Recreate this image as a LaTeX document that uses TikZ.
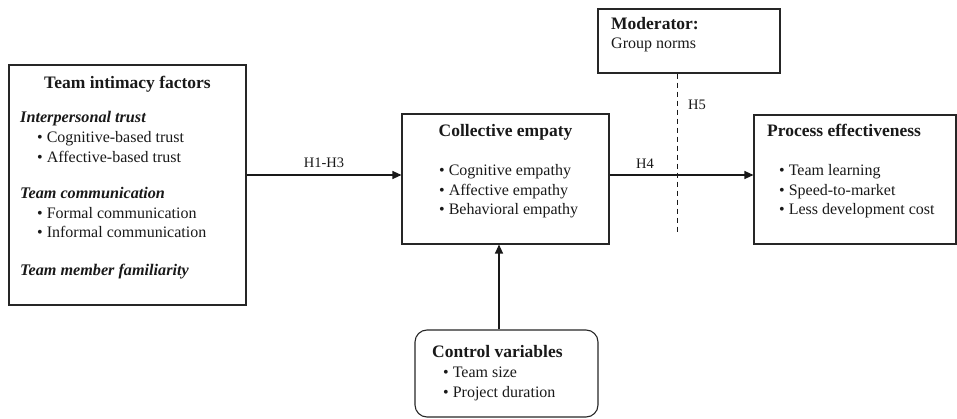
\documentclass[tikz,border=0pt]{standalone}
\usepackage{fontspec}
\setmainfont{Liberation Serif}
\usetikzlibrary{arrows.meta,positioning}

\begin{document}
\begin{tikzpicture}[x=1pt, y=-1pt]
\tikzset{
  box/.style={rectangle, draw=black!85, line width=1.1pt, inner sep=0pt},
  entry/.style={font=\fontsize{16}{19}\selectfont, inner sep=0pt, anchor=base west, text=black!90},
  boxtitle/.style={entry, font=\fontsize{17.5}{20}\selectfont\bfseries},
  subhead/.style={entry, font=\fontsize{16.2}{19}\selectfont\bfseries\itshape},
  hyp/.style={entry, font=\fontsize{14.5}{17}\selectfont},
  flow/.style={-{Triangle[length=9pt,width=8pt]}, line width=1.1pt, draw=black!90},
  modline/.style={dash pattern=on 5pt off 4pt, line width=0.8pt, draw=black!90}
}
\useasboundingbox (0,0) rectangle (957,419);

% boxes
\node[box, minimum width=237pt, minimum height=240pt] (intimacy) at (127.5,185) {};
\node[box, minimum width=207pt, minimum height=130pt] (empathy) at (505.5,179) {};
\node[box, minimum width=202pt, minimum height=129pt] (outcome) at (855,179.5) {};
\node[box, minimum width=182pt, minimum height=64pt] (moderator) at (689,41) {};
\node[box, rounded corners=12pt, minimum width=183pt, minimum height=87pt] (control) at (506.5,373.5) {};

% team intimacy factors
\node[boxtitle, anchor=base] (intimacy-title) at (127.5,89) {Team intimacy factors};
\node[subhead] (trust) at (20,123) {Interpersonal trust};
\node[entry] (trust-1) at (37,143) {\textbullet\ Cognitive-based trust};
\node[entry] (trust-2) at (37,162.5) {\textbullet\ Affective-based trust};
\node[subhead] (comm) at (20,199) {Team communication};
\node[entry] (comm-1) at (37,218.5) {\textbullet\ Formal communication};
\node[entry] (comm-2) at (37,238) {\textbullet\ Informal communication};
\node[subhead] (famil) at (20,276) {Team member familiarity};

% collective empathy
\node[boxtitle, anchor=base] (empathy-title) at (505.5,137) {Collective empaty};
\node[entry] (emp-1) at (439,176) {\textbullet\ Cognitive empathy};
\node[entry] (emp-2) at (439,195.5) {\textbullet\ Affective empathy};
\node[entry] (emp-3) at (439,215) {\textbullet\ Behavioral empathy};

% process effectiveness
\node[boxtitle] (outcome-title) at (767,137) {Process effectiveness};
\node[entry] (out-1) at (779,176) {\textbullet\ Team learning};
\node[entry] (out-2) at (779,195.5) {\textbullet\ Speed-to-market};
\node[entry] (out-3) at (779,215) {\textbullet\ Less development cost};

% moderator
\node[boxtitle] (moderator-title) at (611,30) {Moderator:};
\node[entry] (norms) at (611,49) {Group norms};

% control variables
\node[boxtitle] (control-title) at (432,357) {Control variables};
\node[entry] (ctl-1) at (443,377) {\textbullet\ Team size};
\node[entry] (ctl-2) at (443,397) {\textbullet\ Project duration};

% connectors
\coordinate (mainline) at (0,175);
\coordinate (h5end) at (677,235);
\coordinate (ctlline) at (499,0);

\draw[flow] (intimacy.east |- mainline) -- node[hyp, anchor=base, yshift=7pt] (h13) {H1-H3} (empathy.west |- mainline);
\draw[flow] (empathy.east |- mainline) -- (outcome.west |- mainline);
\node[hyp] (h4) at (636,169) {H4};
\draw[modline] (moderator.south -| h5end) -- (h5end);
\node[hyp] (h5) at (688,110) {H5};
\draw[flow] (control.north -| ctlline) -- (empathy.south -| ctlline);
\end{tikzpicture}
\end{document}
